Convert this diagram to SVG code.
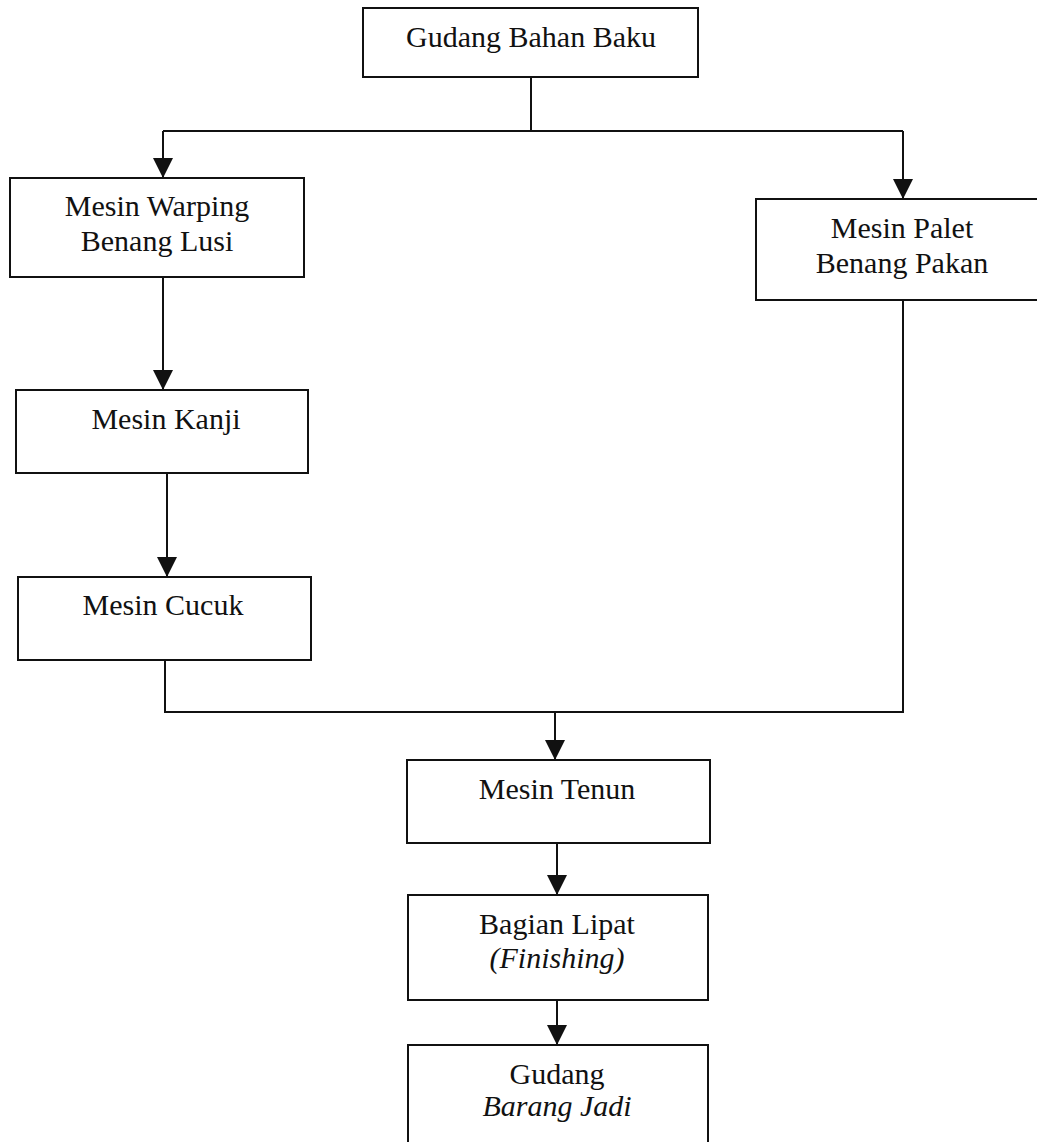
<svg xmlns="http://www.w3.org/2000/svg" width="1037" height="1142" viewBox="0 0 1037 1142">
<style>
.box{fill:#fff;stroke:#111;stroke-width:2}
.t{font-family:"Liberation Serif","Times New Roman",serif;font-size:30px;fill:#111;text-anchor:middle}
.i{font-style:italic}
.c{fill:none;stroke:#111;stroke-width:2}
</style>
<defs>
<marker id="ah" markerWidth="22" markerHeight="20" refX="20" refY="10" orient="auto" markerUnits="userSpaceOnUse">
<path d="M0,0 L20,10 L0,20 Z" fill="#111"/>
</marker>
</defs>
<rect width="1037" height="1142" fill="#fff"/>
<g id="connectors">
<path class="c" d="M531,77 V131"/>
<path class="c" d="M163,131 H903"/>
<path class="c" d="M163,131 V178" marker-end="url(#ah)"/>
<path class="c" d="M903,131 V199" marker-end="url(#ah)"/>
<path class="c" d="M163,277 V390" marker-end="url(#ah)"/>
<path class="c" d="M167,473 V577" marker-end="url(#ah)"/>
<path class="c" d="M165,660 V712 H903 V300"/>
<path class="c" d="M555,712 V760" marker-end="url(#ah)"/>
<path class="c" d="M557,843 V895" marker-end="url(#ah)"/>
<path class="c" d="M557,1000 V1045" marker-end="url(#ah)"/>
</g>
<g id="gudang-bahan-baku">
<rect class="box" x="363" y="8" width="335" height="69"/>
<text class="t" x="531" y="47">Gudang Bahan Baku</text>
</g>
<g id="mesin-warping">
<rect class="box" x="10" y="178" width="294" height="99"/>
<text class="t" x="157" y="216">Mesin Warping</text>
<text class="t" x="157" y="251">Benang Lusi</text>
</g>
<g id="mesin-palet">
<rect class="box" x="756" y="199" width="290" height="101"/>
<text class="t" x="902" y="238">Mesin Palet</text>
<text class="t" x="902" y="273">Benang Pakan</text>
</g>
<g id="mesin-kanji">
<rect class="box" x="16" y="390" width="292" height="83"/>
<text class="t" x="166" y="429">Mesin Kanji</text>
</g>
<g id="mesin-cucuk">
<rect class="box" x="18" y="577" width="293" height="83"/>
<text class="t" x="163" y="615">Mesin Cucuk</text>
</g>
<g id="mesin-tenun">
<rect class="box" x="407" y="760" width="303" height="83"/>
<text class="t" x="557" y="799">Mesin Tenun</text>
</g>
<g id="bagian-lipat">
<rect class="box" x="408" y="895" width="300" height="105"/>
<text class="t" x="557" y="934">Bagian Lipat</text>
<text class="t i" x="557" y="968">(Finishing)</text>
</g>
<g id="gudang-barang-jadi">
<rect class="box" x="408" y="1045" width="300" height="110"/>
<text class="t" x="557" y="1084">Gudang</text>
<text class="t i" x="557" y="1116">Barang Jadi</text>
</g>
</svg>
